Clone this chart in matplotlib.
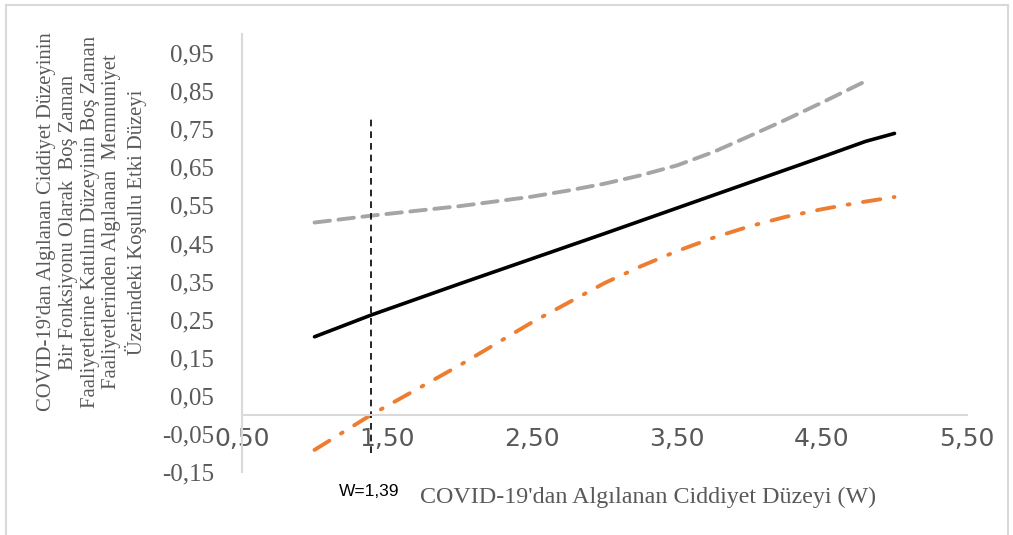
# Conditional effect plot: effect of perceived leisure participation on
# satisfaction as a function of perceived COVID-19 severity (W).

import matplotlib.pyplot as plt
from matplotlib.lines import Line2D

# ---- data ----
w_effect = [1.0, 1.39, 2.0, 2.5, 3.0, 3.5, 4.0, 4.5, 4.8, 5.0]
effect = [0.205, 0.262, 0.344, 0.41, 0.476, 0.543, 0.61, 0.677, 0.718, 0.739]

w_upper = [1.0, 1.39, 2.0, 2.5, 2.75, 3.0, 3.25, 3.5, 3.75, 4.0, 4.25, 4.5, 4.8]
upper_ci = [0.505, 0.523, 0.548, 0.573, 0.589, 0.607, 0.629, 0.655,
            0.69, 0.732, 0.775, 0.82, 0.876]

w_lower = [1.0, 1.39, 2.0, 2.5, 3.0, 3.25, 3.5, 3.75, 4.0, 4.25, 4.5, 4.75, 5.0]
lower_ci = [-0.092, 0.0, 0.13, 0.243, 0.346, 0.39, 0.43, 0.465, 0.495,
            0.52, 0.54, 0.557, 0.572]

jn_point = 1.39
jn_span = [-0.10, 0.78]

x_ticks = [0.5, 1.5, 2.5, 3.5, 4.5, 5.5]
y_ticks = [-0.15, -0.05, 0.05, 0.15, 0.25, 0.35, 0.45, 0.55, 0.65, 0.75, 0.85, 0.95]

x_label = "COVID-19'dan Algılanan Ciddiyet Düzeyi (W)"
y_label = ("COVID-19'dan Algılanan Ciddiyet Düzeyinin\n"
           "Bir Fonksiyonu Olarak  Boş Zaman\n"
           "Faaliyetlerine Katılım Düzeyinin Boş Zaman\n"
           "Faaliyetlerinden Algılanan  Memnuniyet\n"
           "Üzerindeki Koşullu Etki Düzeyi")
jn_label = "W=1,39"

TEXT_GREY = "#595959"
AXIS_GREY = "#d9d9d9"
SERIF = "Liberation Serif"


def comma(v, decimals=2):
    return f"{v:.{decimals}f}".replace(".", ",")


def main():
    W, H = 1013, 535
    fig = plt.figure(figsize=(W / 100, H / 100), dpi=100)
    ax = fig.add_axes([242 / W, (H - 472) / H, (967 - 242) / W, (472 - 34) / H])

    ax.plot(w_effect, effect, color="black", lw=2.6, solid_capstyle="round")
    ax.plot(w_upper, upper_ci, color="#a5a5a5", lw=2.8,
            dashes=(4, 2.2), dash_capstyle="round")
    ax.plot(w_lower, lower_ci, color="#ed7d31", lw=2.8,
            dashes=(4.5, 3.5, 0.5, 3.5), dash_capstyle="round")
    ax.plot([jn_point, jn_point], jn_span, color="black", lw=1.2,
            dashes=(4, 3))

    ax.set_xlim(0.5, 5.5)
    ax.set_ylim(-0.15, 1.0)
    ax.set_xticks(x_ticks)
    ax.set_xticklabels([comma(v) for v in x_ticks])
    ax.set_yticks(y_ticks)
    ax.set_yticklabels([comma(v) for v in y_ticks])
    ax.tick_params(length=0, colors=TEXT_GREY, labelsize=18)
    ax.tick_params(axis="y", pad=20)
    ax.tick_params(axis="x", pad=9)
    for lab in ax.get_xticklabels() + ax.get_yticklabels():
        lab.set_fontfamily(SERIF)

    for side in ("top", "right"):
        ax.spines[side].set_visible(False)
    ax.spines["bottom"].set_position(("data", 0))
    for side in ("left", "bottom"):
        ax.spines[side].set_color(AXIS_GREY)
        ax.spines[side].set_linewidth(1.5)

    fig.text(648 / W, 1 - 497 / H, x_label, ha="center", va="center",
             fontsize=17.3, family=SERIF, color=TEXT_GREY)
    fig.text(92 / W, 1 - 222 / H, y_label, ha="center", va="center",
             rotation=90, multialignment="center", linespacing=1.2,
             fontsize=14.9, family=SERIF, color=TEXT_GREY)
    fig.text(369 / W, 1 - 491 / H, jn_label, ha="center", va="center",
             fontsize=12.5, family="Liberation Sans", color="black")

    # light frame around the chart (left, top, right edges)
    frame = dict(color=AXIS_GREY, lw=1.5, transform=fig.transFigure)
    fig.add_artist(Line2D([6 / W, 6 / W], [0, 1 - 5 / H], **frame))
    fig.add_artist(Line2D([6 / W, 1008 / W], [1 - 5 / H, 1 - 5 / H], **frame))
    fig.add_artist(Line2D([1008 / W, 1008 / W], [0, 1 - 5 / H], **frame))

    fig.savefig("out.png", dpi=100)


if __name__ == "__main__":
    main()
